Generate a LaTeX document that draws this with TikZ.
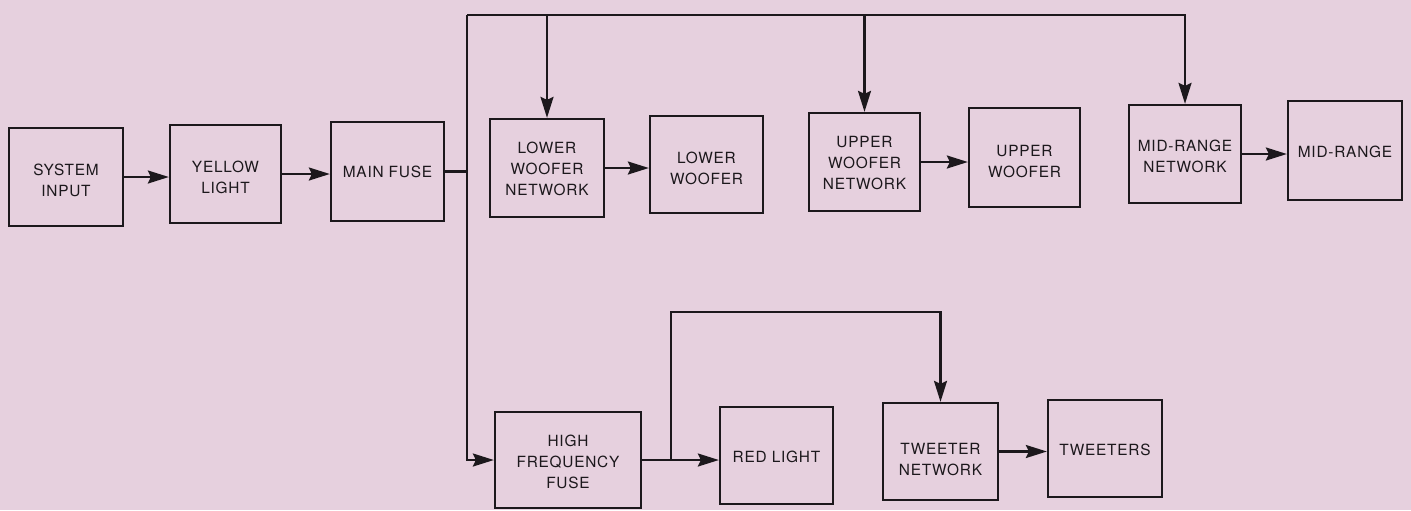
\documentclass[tikz,border=0pt]{standalone}
\usepackage{fontspec}
\setmainfont{TeX Gyre Heros}[LetterSpace=5]
\usetikzlibrary{arrows.meta}
\definecolor{paper}{RGB}{230,208,222}
\definecolor{ink}{RGB}{28,24,28}
% centred block of lines, lowered by #1 and taking no room of its own
\newcommand\blocktext[2]{\raisebox{-#1}[0pt][0pt]{\begin{tabular}{@{}c@{}}#2\end{tabular}}}
\begin{document}
\begin{tikzpicture}[x=0.5pt,y=-0.5pt,
  blk/.style={draw=ink, line width=1.15pt, inner sep=0pt,
    font=\fontsize{7.7}{10.5}\selectfont, text=ink},
  sz/.style 2 args={minimum width=#1*0.5pt, minimum height=#2*0.5pt},
  wire/.style={draw=ink, line width=1.15pt},
  flow/.style={wire, -{Stealth[length=10.5pt,width=6.5pt,inset=1.5pt]}}]
\fill[paper] (0,0) rectangle (1411,510);
\useasboundingbox (0,0) rectangle (1411,510);

% main chain
\node[blk,sz={114}{98}] (si)  at (66,177)      {\blocktext{4.3pt}{SYSTEM\\INPUT}};
\node[blk,sz={111}{98}] (yl)  at (225.5,174)   {\blocktext{4.4pt}{YELLOW\\LIGHT}};
\node[blk,sz={113}{99}] (mf)  at (387.5,171.5) {\blocktext{3.1pt}{MAIN FUSE}};

% woofer and mid-range branches
\node[blk,sz={114}{98}] (lwn) at (547,168)     {\blocktext{3.1pt}{LOWER\\WOOFER\\NETWORK}};
\node[blk,sz={113}{97}] (lw)  at (706.5,164.5) {\blocktext{4.6pt}{LOWER\\WOOFER}};
\node[blk,sz={111}{98}] (uwn) at (864.5,162)   {\blocktext{3.1pt}{UPPER\\WOOFER\\NETWORK}};
\node[blk,sz={111}{99}] (uw)  at (1024.5,157.5){\blocktext{4.8pt}{UPPER\\WOOFER}};
\node[blk,sz={112}{98}] (mrn) at (1185,154)    {\blocktext{4.1pt}{MID-RANGE\\NETWORK}};
\node[blk,sz={114}{99}] (mr)  at (1345,150.5)  {\blocktext{3.6pt}{MID-RANGE}};

% high-frequency branch
\node[blk,sz={146}{96}] (hff) at (568,460)     {\blocktext{3.6pt}{HIGH\\FREQUENCY\\FUSE}};
\node[blk,sz={113}{97}] (rl)  at (776.5,455.5) {\blocktext{3.6pt}{RED LIGHT}};
\node[blk,sz={115}{97}] (tn)  at (940.5,451.5) {\blocktext{6.6pt}{TWEETER\\NETWORK}};
\node[blk,sz={114}{97}] (tw)  at (1105,448.5)  {\blocktext{3.3pt}{TWEETERS}};

% bus corners
\coordinate (tl) at (467,15);
\coordinate (br) at (671,460);
\coordinate (tt) at (671,312);

\draw[flow] (si.east) -- (si.east -| yl.west);
\draw[flow] (yl.east) -- (yl.east -| mf.west);
\draw[wire] (mf.east) -- (mf.east -| tl);

\draw[flow] (tl) -- (tl |- hff.west) -- (hff.west);
\draw[flow] (tl) -- (tl -| mrn.north) -- (mrn.north);
\draw[flow] (tl -| lwn.north) -- (lwn.north);
\draw[flow] (tl -| uwn.north) -- (uwn.north);

\draw[flow] (lwn.east) -- (lwn.east -| lw.west);
\draw[flow] (uwn.east) -- (uwn.east -| uw.west);
\draw[flow] (mrn.east) -- (mrn.east -| mr.west);

\draw[flow] (hff.east) -- (hff.east -| rl.west);
\draw[flow] (br) -- (tt) -| (tn.north);
\draw[flow] (tn.east) -- (tn.east -| tw.west);
\end{tikzpicture}
\end{document}
